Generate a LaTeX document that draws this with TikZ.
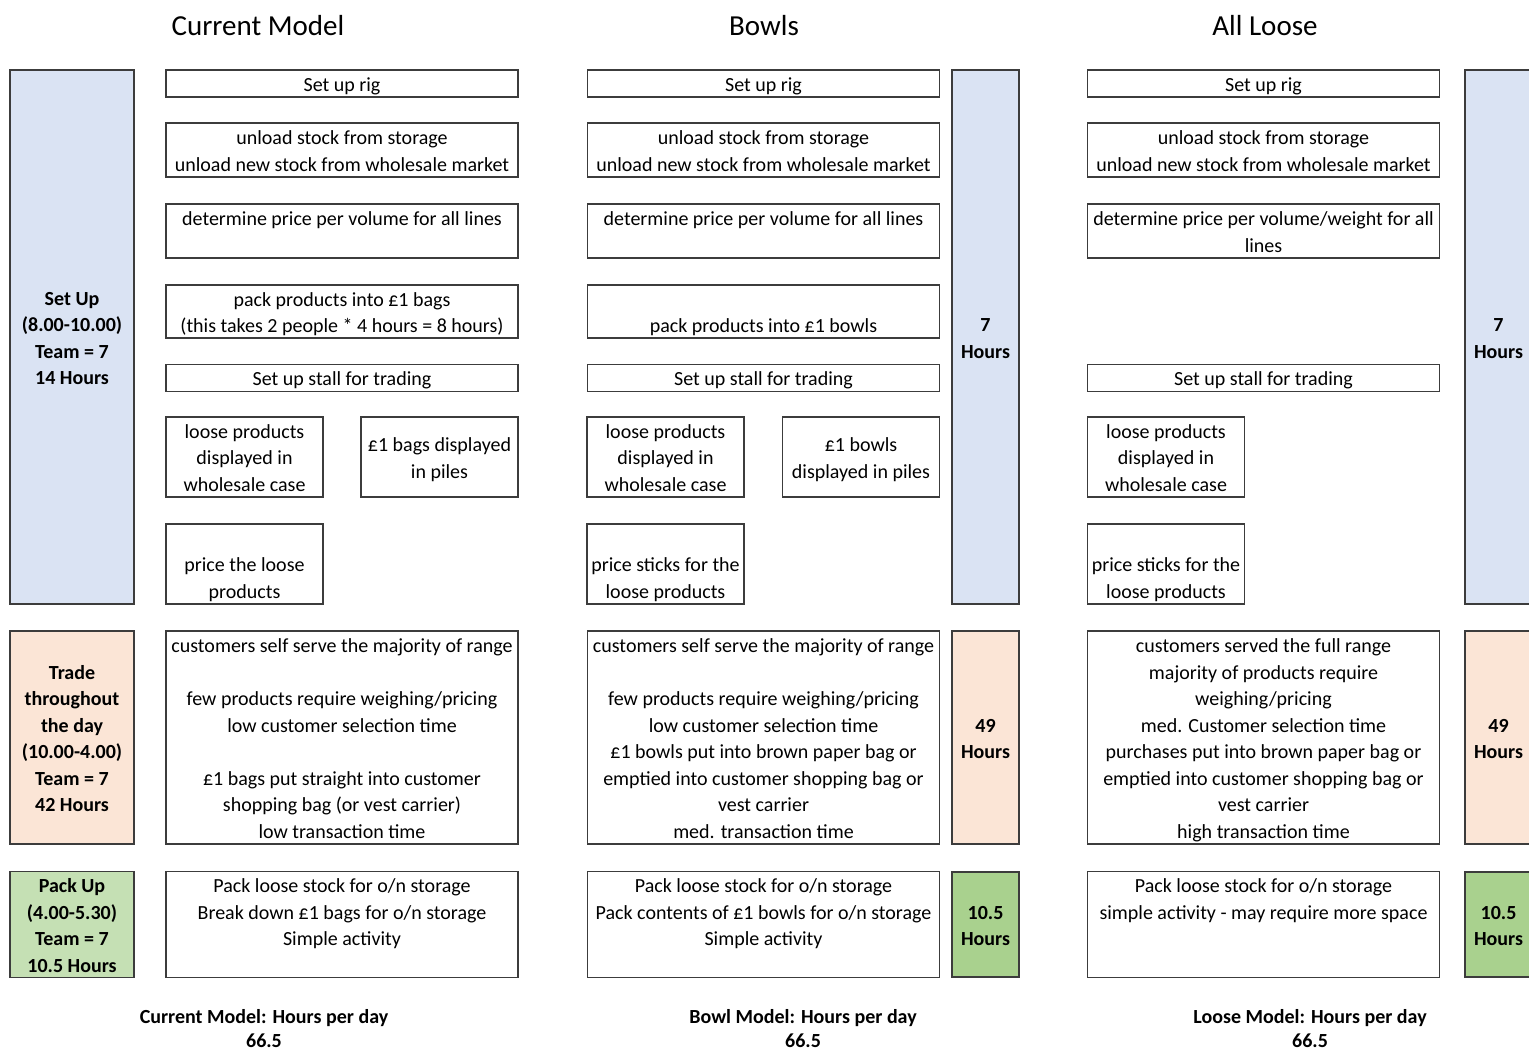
\documentclass[tikz,border=0pt]{standalone}
\usepackage{fontspec}
\setmainfont{Carlito}
\usepackage{tikz}

\definecolor{setupblue}{RGB}{218,227,243}
\definecolor{tradepeach}{RGB}{251,229,214}
\definecolor{packgreen}{RGB}{197,224,180}
\definecolor{hrsgreen}{RGB}{169,209,142}
\definecolor{edgegray}{RGB}{60,60,60}

% one text row of a cell
\newcommand{\rs}{\rule[-5.5pt]{0pt}{26.5pt}}

\tikzset{
  task/.style={draw=edgegray, line width=1.2pt, fill=white, align=center, inner xsep=2pt, inner ysep=0pt,
    outer sep=0pt, font=\fontsize{20}{26.5}\selectfont},
  phase/.style={task, font=\fontsize{20}{26.5}\selectfont\bfseries, minimum width=124pt},
  hrs/.style={phase, minimum width=67pt},
  wide/.style={minimum width=352pt},
  half/.style={minimum width=157pt},
  heading/.style={font=\fontsize{29}{34}\selectfont},
  total/.style={anchor=base, inner sep=0pt, font=\fontsize{20}{26.5}\selectfont\bfseries}
}

\begin{document}
\begin{tikzpicture}[x=1pt, y=-1pt]
            \useasboundingbox (0,0) rectangle (1529,1052);
            \clip (0,0) rectangle (1529,1052);

            % Headings
            \node[heading] (cTitle) at (258,26) {Current Model};
            \node[heading] (bTitle) at (764,26) {Bowls};
            \node[heading] (lTitle) at (1265,26) {All Loose};

            % Phases
            \node[phase, fill=setupblue, minimum height=534pt] (setupPhase) at (72,337) {\rs Set Up\\\rs(8.00-10.00)\\\rs Team = 7\\\rs 14 Hours};
            \node[phase, fill=tradepeach, minimum height=213pt] (tradePhase) at (72,737.5) {\rs Trade\\\rs throughout\\\rs the day\\\rs(10.00-4.00)\\\rs Team = 7\\\rs 42 Hours};
            \node[phase, fill=packgreen, minimum height=105pt] (packPhase) at (72,924.5) {\rs Pack Up\\\rs(4.00-5.30)\\\rs Team = 7\\\rs 10.5 Hours};

            % Current model
            \node[task, wide, minimum height=27pt] (cRig) at (342,83.5) {\rs Set up rig};
            \node[task, wide, minimum height=54pt] (cUnload) at (342,150) {\rs unload stock from storage\\\rs unload new stock from wholesale market};
            \node[task, wide, minimum height=54pt] (cPrice) at (342,231) {\rs determine price per volume for all lines\\\rs};
            \node[task, wide, minimum height=53pt] (cPack) at (342,311.5) {\rs pack products into £1 bags\\\rs(this takes 2 people * 4 hours = 8 hours)};
            \node[task, wide, minimum height=26pt] (cStall) at (342,378) {\rs Set up stall for trading};
            \node[task, half, minimum height=80pt] (cLoose) at (244.5,457) {\rs loose products\\\rs displayed in\\\rs wholesale case};
            \node[task, half, minimum height=80pt] (cPiles) at (439.5,457) {\rs£1 bags displayed\\\rs in piles};
            \node[task, half, minimum height=80pt] (cTicket) at (244.5,564) {\rs\\\rs price the loose\\\rs products};
            \node[task, wide, minimum height=213pt] (cTrade) at (342,737.5) {\rs customers self serve the majority of range\\\rs\\\rs few products require weighing/pricing\\\rs low customer selection time\\\rs\\\rs£1 bags put straight into customer\\\rs shopping bag (or vest carrier)\\\rs low transaction time};
            \node[task, wide, minimum height=105pt] (cPackUp) at (342,924.5) {\rs Pack loose stock for o/n storage\\\rs Break down £1 bags for o/n storage\\\rs Simple activity\\\rs};

            % Bowls model
            \node[task, wide, minimum height=27pt] (bRig) at (763.5,83.5) {\rs Set up rig};
            \node[task, wide, minimum height=54pt] (bUnload) at (763.5,150) {\rs unload stock from storage\\\rs unload new stock from wholesale market};
            \node[task, wide, minimum height=54pt] (bPrice) at (763.5,231) {\rs determine price per volume for all lines\\\rs};
            \node[task, wide, minimum height=53pt] (bPack) at (763.5,311.5) {\rs\\\rs pack products into £1 bowls};
            \node[task, wide, minimum height=26pt] (bStall) at (763.5,378) {\rs Set up stall for trading};
            \node[task, half, minimum height=80pt] (bLoose) at (665.5,457) {\rs loose products\\\rs displayed in\\\rs wholesale case};
            \node[task, half, minimum height=80pt] (bPiles) at (861,457) {\rs£1 bowls\\\rs displayed in piles};
            \node[task, half, minimum height=80pt] (bTicket) at (665.5,564) {\rs\\\rs price sticks for the\\\rs loose products};
            \node[task, wide, minimum height=213pt] (bTrade) at (763.5,737.5) {\rs customers self serve the majority of range\\\rs\\\rs few products require weighing/pricing\\\rs low customer selection time\\\rs£1 bowls put into brown paper bag or\\\rs emptied into customer shopping bag or\\\rs vest carrier\\\rs med. transaction time};
            \node[task, wide, minimum height=105pt] (bPackUp) at (763.5,924.5) {\rs Pack loose stock for o/n storage\\\rs Pack contents of £1 bowls for o/n storage\\\rs Simple activity\\\rs};
            \node[hrs, fill=setupblue, minimum height=534pt] (bSetupHrs) at (985.5,337) {\rs 7\\\rs Hours};
            \node[hrs, fill=tradepeach, minimum height=213pt] (bTradeHrs) at (985.5,737.5) {\rs 49\\\rs Hours};
            \node[hrs, fill=hrsgreen, minimum height=105pt] (bPackHrs) at (985.5,924.5) {\rs 10.5\\\rs Hours};

            % All loose model
            \node[task, wide, minimum height=27pt] (lRig) at (1263.5,83.5) {\rs Set up rig};
            \node[task, wide, minimum height=54pt] (lUnload) at (1263.5,150) {\rs unload stock from storage\\\rs unload new stock from wholesale market};
            \node[task, wide, minimum height=54pt] (lPrice) at (1263.5,231) {\rs determine price per volume/weight for all\\\rs lines};
            \node[task, wide, minimum height=26pt] (lStall) at (1263.5,378) {\rs Set up stall for trading};
            \node[task, half, minimum height=80pt] (lLoose) at (1166,457) {\rs loose products\\\rs displayed in\\\rs wholesale case};
            \node[task, half, minimum height=80pt] (lTicket) at (1166,564) {\rs\\\rs price sticks for the\\\rs loose products};
            \node[task, wide, minimum height=213pt] (lTrade) at (1263.5,737.5) {\rs customers served the full range\\\rs majority of products require\\\rs weighing/pricing\\\rs med. Customer selection time\\\rs purchases put into brown paper bag or\\\rs emptied into customer shopping bag or\\\rs vest carrier\\\rs high transaction time};
            \node[task, wide, minimum height=105pt] (lPackUp) at (1263.5,924.5) {\rs Pack loose stock for o/n storage\\\rs simple activity - may require more space\\\rs\\\rs};
            \node[hrs, fill=setupblue, minimum height=534pt] (lSetupHrs) at (1498.5,337) {\rs 7\\\rs Hours};
            \node[hrs, fill=tradepeach, minimum height=213pt] (lTradeHrs) at (1498.5,737.5) {\rs 49\\\rs Hours};
            \node[hrs, fill=hrsgreen, minimum height=105pt] (lPackHrs) at (1498.5,924.5) {\rs 10.5\\\rs Hours};

            % Totals
            \node[total] (cTotal) at (264,1023) {Current Model: Hours per day};
            \node[total] (cSum) at (264,1047) {66.5};
            \node[total] (bTotal) at (803,1023) {Bowl Model: Hours per day};
            \node[total] (bSum) at (803,1047) {66.5};
            \node[total] (lTotal) at (1310,1023) {Loose Model: Hours per day};
            \node[total] (lSum) at (1310,1047) {66.5};
        \end{tikzpicture}
\end{document}
